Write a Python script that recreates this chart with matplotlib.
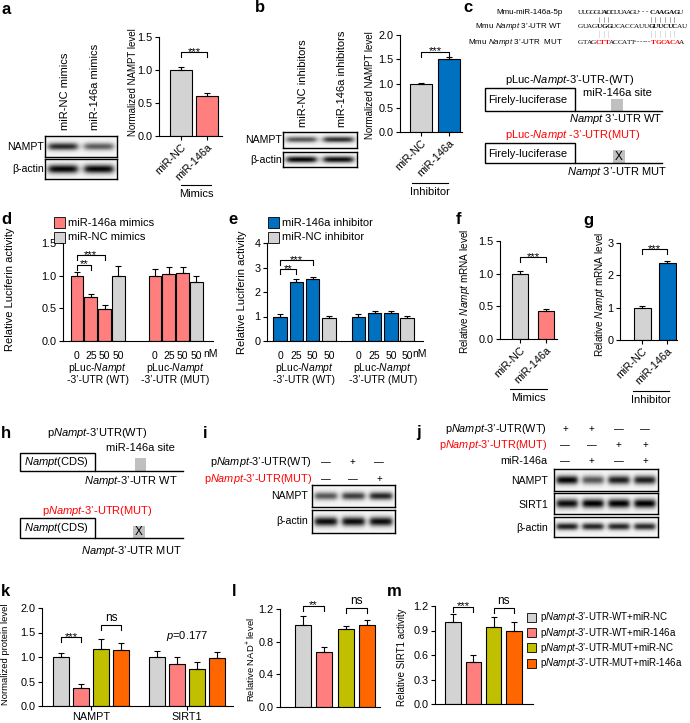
import numpy as np
import matplotlib
matplotlib.use("Agg")
import matplotlib.pyplot as plt
from matplotlib.patches import Rectangle
from matplotlib import transforms

plt.rcParams['font.family'] = ['Liberation Sans', 'DejaVu Sans']
plt.rcParams['mathtext.fontset'] = 'custom'
plt.rcParams['mathtext.rm'] = 'Liberation Sans'
plt.rcParams['mathtext.it'] = 'Liberation Sans:italic'
plt.rcParams['font.size'] = 7
plt.rcParams['axes.linewidth'] = 0.8

W, H = 690, 723
fig = plt.figure(figsize=(W / 100, H / 100), dpi=100)

GRAY = '#d3d3d3'
PINK = '#ff7f7f'
BLUE = '#0070c0'
OLIVE = '#c0c000'
ORANGE = '#ff6600'
RED = '#ff0000'
TICK_FS = 7.8

# ---- data ----
pair_labels = ['miR-NC', 'miR-146a']
a_mean = [1.0, 0.60]; a_err = [0.05, 0.05]
b_mean = [1.0, 1.51]; b_err = [0.02, 0.03]
f_mean = [1.0, 0.43]; f_err = [0.04, 0.03]
g_mean = [1.0, 2.38]; g_err = [0.04, 0.05]

doses = ['0', '25', '50', '50']
d_wt = [1.0, 0.68, 0.49, 1.0]; d_wt_err = [0.05, 0.04, 0.06, 0.15]
d_mut = [1.0, 1.03, 1.04, 0.90]; d_mut_err = [0.10, 0.10, 0.09, 0.10]
e_wt = [1.0, 2.40, 2.53, 0.92]; e_wt_err = [0.10, 0.15, 0.10, 0.10]
e_mut = [1.0, 1.15, 1.15, 0.92]; e_mut_err = [0.10, 0.08, 0.08, 0.10]

k_groups = ['NAMPT', 'SIRT1']
k_nampt = [1.0, 0.37, 1.17, 1.14]; k_nampt_err = [0.09, 0.07, 0.20, 0.15]
k_sirt1 = [1.0, 0.85, 0.76, 0.97]; k_sirt1_err = [0.12, 0.14, 0.14, 0.14]
l_mean = [1.0, 0.67, 0.96, 1.0]; l_err = [0.12, 0.06, 0.03, 0.07]
m_mean = [1.0, 0.51, 0.94, 0.90]; m_err = [0.10, 0.09, 0.12, 0.11]
m_legend = [r"p$\it{Nampt}$-3’-UTR-WT+miR-NC",
            r"p$\it{Nampt}$-3’-UTR-WT+miR-146a",
            r"p$\it{Nampt}$-3’-UTR-MUT+miR-NC",
            r"p$\it{Nampt}$-3’-UTR-MUT+miR-146a"]
four_colors = [GRAY, PINK, OLIVE, ORANGE]

# blot band intensities (lane order left to right)
a_blot_nampt = [0.80, 0.60]; a_blot_actin = [0.95, 0.95]
b_blot_nampt = [0.62, 0.78]; b_blot_actin = [0.95, 0.92]
i_blot_nampt = [0.62, 0.72, 0.82]; i_blot_actin = [0.92, 0.92, 0.92]
j_blot_nampt = [0.95, 0.62, 0.85, 0.85]
j_blot_sirt1 = [0.92, 0.97, 0.97, 0.97]
j_blot_actin = [0.85, 0.82, 0.82, 0.80]
i_signs = [['—', '+', '—'], ['—', '—', '+']]
j_signs = [['+', '+', '—', '—'], ['—', '—', '+', '+'], ['—', '+', '—', '+']]


def px_axes(x0, y0, x1, y1):
    return fig.add_axes([x0 / W, 1 - y1 / H, (x1 - x0) / W, (y1 - y0) / H])


def bar_axes(x0, x1, ytop, ybot, ymax, yticks, fmt, c0, step):
    ax = px_axes(x0, ytop, x1, ybot)
    ax.set_xlim((x0 - c0) / step, (x1 - c0) / step)
    ax.set_ylim(0, ymax)
    ax.set_yticks(yticks)
    ax.set_yticklabels([fmt % t for t in yticks])
    for s in ['top', 'right']:
        ax.spines[s].set_visible(False)
    ax.tick_params(direction='out', length=3, width=0.8, pad=1.5, labelsize=TICK_FS)
    ax.patch.set_visible(False)
    return ax


def bars(ax, pos, mean, err, colors, width):
    ax.bar(pos, mean, width=width, color=colors, edgecolor='black', linewidth=0.8, zorder=2)
    ax.errorbar(pos, mean, yerr=[np.zeros(len(mean)), err], fmt='none', ecolor='black',
                elinewidth=0.8, capsize=2.5, capthick=0.8, clip_on=False, zorder=3)


def bracket(ax, xa, xb, y, label, drop_px=5):
    d = drop_px * ax.get_ylim()[1] / (ax.get_position().height * H)
    ax.plot([xa, xa, xb, xb], [y - d, y, y, y - d], color='black', lw=0.8, clip_on=False)
    if label.startswith('*'):
        ax.text((xa + xb) / 2, y - 0.5 * d, label, ha='center', va='baseline', fontsize=8.2)
    else:
        ax.text((xa + xb) / 2, y + 0.2 * d, label, ha='center', va='bottom', fontsize=8.5)


def rot_xlabels(ax, labels):
    ax.set_xticks(range(len(labels)))
    ax.set_xticklabels(labels, rotation=45, ha='right', va='top', rotation_mode='anchor',
                       fontsize=TICK_FS)


def blot(x0, y0, x1, y1, levels, thick=0.18):
    ax = px_axes(x0, y0, x1, y1)
    nx, ny = int((x1 - x0) * 3), int((y1 - y0) * 3)
    X, Y = np.meshgrid(np.linspace(0, 1, nx), np.linspace(0, 1, ny))
    img = np.full((ny, nx), 0.96)
    n = len(levels)
    for i, lv in enumerate(levels):
        cx = (i + 0.5) / n
        hw = 0.40 / n
        px = 1 / (1 + np.exp((np.abs(X - cx) - hw) / (0.05 / n)))
        py = np.exp(-((Y - 0.5) / thick) ** 2)
        img -= lv * px * py
    ax.imshow(np.clip(img, 0, 1), cmap='gray', vmin=0, vmax=1, aspect='auto',
              extent=(0, 1, 0, 1), interpolation='bilinear')
    ax.set_xticks([]); ax.set_yticks([])
    for s in ax.spines.values():
        s.set_linewidth(1.0)
    return ax


# ================= a =================
blot(45, 136, 117, 157, a_blot_nampt)
blot(45, 159, 117, 179, a_blot_actin, thick=0.22)
ax = bar_axes(159, 222, 37, 136, 1.5, [0, 0.5, 1.0, 1.5], '%.1f', 181, 26)
bars(ax, [0, 1], a_mean, a_err, [GRAY, PINK], 0.86)
rot_xlabels(ax, pair_labels)
bracket(ax, 0, 1, 1.27, '***')

# ================= b =================
blot(283, 132, 357, 148, b_blot_nampt)
blot(283, 152, 357, 167, b_blot_actin, thick=0.22)
ax = bar_axes(400, 462, 35, 132, 2.0, [0, 0.5, 1.0, 1.5, 2.0], '%.1f', 421, 28)
bars(ax, [0, 1], b_mean, b_err, [GRAY, BLUE], 0.8)
rot_xlabels(ax, pair_labels)
bracket(ax, 0, 1, 1.65, '***')

# ================= d =================
pos_wt = np.arange(4)
pos_mut = np.arange(4) + 5.65
ax_d = bar_axes(63, 213, 243, 341, 1.5, [0, 0.5, 1.0, 1.5], '%.1f', 77, 13.8)
bars(ax_d, pos_wt, d_wt, d_wt_err, [PINK, PINK, PINK, GRAY], 0.92)
bars(ax_d, pos_mut, d_mut, d_mut_err, [PINK, PINK, PINK, GRAY], 0.92)
ax_d.set_xticks(np.concatenate([pos_wt, pos_mut]))
ax_d.set_xticklabels(doses + doses)
ax_d.tick_params(axis='x', length=0, pad=7, labelsize=7.5)
bracket(ax_d, 0, 1, 1.17, '**')
bracket(ax_d, 0, 2, 1.31, '***')

# ================= e =================
pos_mut_e = np.arange(4) + 4.8
ax_e = bar_axes(267, 423, 243, 341, 4, [0, 1, 2, 3, 4], '%d', 280, 16.3)
bars(ax_e, pos_wt, e_wt, e_wt_err, [BLUE, BLUE, BLUE, GRAY], 0.82)
bars(ax_e, pos_mut_e, e_mut, e_mut_err, [BLUE, BLUE, BLUE, GRAY], 0.82)
ax_e.set_xticks(np.concatenate([pos_wt, pos_mut_e]))
ax_e.set_xticklabels(doses + doses)
ax_e.tick_params(axis='x', length=0, pad=7, labelsize=7.5)
bracket(ax_e, 0, 1, 2.93, '**')
bracket(ax_e, 0, 2, 3.30, '***')

# ================= f / g =================
ax = bar_axes(500, 557, 241, 339, 1.5, [0, 0.5, 1.0, 1.5], '%.1f', 520, 26)
bars(ax, [0, 1], f_mean, f_err, [GRAY, PINK], 0.65)
rot_xlabels(ax, pair_labels)
bracket(ax, 0, 1, 1.25, '***')

ax = bar_axes(620, 677, 243, 340, 3, [0, 1, 2, 3], '%d', 642, 25)
bars(ax, [0, 1], g_mean, g_err, [GRAY, BLUE], 0.68)
rot_xlabels(ax, pair_labels)
bracket(ax, 0, 1, 2.8, '***')

# ================= i / j blots =================
blot(312, 485, 395, 507, i_blot_nampt)
blot(312, 510, 395, 533, i_blot_actin, thick=0.2)
blot(554, 469, 658, 491, j_blot_nampt, thick=0.2)
blot(554, 493, 658, 514, j_blot_sirt1, thick=0.22)
blot(554, 517, 658, 537, j_blot_actin, thick=0.17)

# ================= k =================
pos_k1 = np.arange(4)
pos_k2 = np.arange(4) + 4.8
ax = bar_axes(42, 233, 608, 706, 2.0, [0, 0.5, 1.0, 1.5, 2.0], '%.1f', 61, 20)
bars(ax, pos_k1, k_nampt, k_nampt_err, four_colors, 0.76)
bars(ax, pos_k2, k_sirt1, k_sirt1_err, four_colors, 0.76)
ax.set_xticks([pos_k1.mean(), pos_k2.mean()])
ax.set_xticklabels(k_groups)
bracket(ax, 0, 1, 1.40, '***')
bracket(ax, 2, 3, 1.65, 'ns')
ax.text(pos_k2.mean(), 1.28, r"$\it{p}$=0.177", ha='center', va='bottom', fontsize=8)

# ================= l =================
ax = bar_axes(280, 380, 609, 707, 1.2, [0, 0.4, 0.8, 1.2], '%.1f', 303, 21.3)
bars(ax, np.arange(4), l_mean, l_err, four_colors, 0.76)
ax.set_xticks([])
bracket(ax, 0, 1, 1.24, '**')
bracket(ax, 2, 3, 1.21, 'ns')

# ================= m =================
ax = bar_axes(435, 533, 606, 704, 1.2, [0, 0.3, 0.6, 0.9, 1.2], '%.1f', 453, 20.3)
bars(ax, np.arange(4), m_mean, m_err, four_colors, 0.76)
ax.set_xticks([])
bracket(ax, 0, 1, 1.19, '***')
bracket(ax, 2, 3, 1.18, 'ns')

# ================= overlay (text, schematics) =================
ov = fig.add_axes([0, 0, 1, 1])
ov.set_xlim(0, W); ov.set_ylim(H, 0); ov.axis('off')


def T(x, y, s, **kw):
    kw.setdefault('ha', 'center'); kw.setdefault('va', 'center')
    ov.text(x, y, s, **kw)


for lab, x, y in [('a', 1, 9), ('b', 255, 8), ('c', 463, 8), ('d', 1, 220), ('e', 228, 220),
                  ('f', 456, 219), ('g', 583, 221), ('h', 1, 433), ('i', 203, 433),
                  ('j', 416, 433), ('k', 1, 591), ('l', 232, 591), ('m', 387, 591)]:
    T(x, y, lab, ha='left', fontsize=12, fontweight='bold')

# y labels
T(133, 82, 'Normalized NAMPT level', rotation=90, fontsize=7)
T(370, 85, 'Normalized NAMPT level', rotation=90, fontsize=7)
T(10, 289, 'Relative Luciferin activity', rotation=90, fontsize=8)
T(242, 292, 'Relative Luciferin activity', rotation=90, fontsize=8)
T(465, 291, r"Relative $\it{Nampt}$ mRNA level", rotation=90, fontsize=7.2)
T(600, 294, r"Relative $\it{Nampt}$ mRNA level", rotation=90, fontsize=7.2)
T(6, 654, 'Normalized protein level', rotation=90, fontsize=6.8)
T(251, 660, r"Relative NAD$^{+}$ level", rotation=90, fontsize=6.8)
T(402, 657, 'Relative SIRT1 activity', rotation=90, fontsize=7)

# blot labels a/b
T(44, 147, 'NAMPT', ha='right', fontsize=7.6)
T(44, 169, 'β-actin', ha='right', fontsize=7.6)
T(65, 130, 'miR-NC mimics', rotation=90, va='bottom', fontsize=8)
T(95, 130, 'miR-146a mimics', rotation=90, va='bottom', fontsize=8)
T(282, 140, 'NAMPT', ha='right', fontsize=7.6)
T(282, 160, 'β-actin', ha='right', fontsize=7.6)
T(303, 127, 'miR-NC inhibitors', rotation=90, va='bottom', fontsize=8)
T(342, 127, 'miR-146a inhibitors', rotation=90, va='bottom', fontsize=8)

# group underlines
for x0, x1, y, s in [(181, 211, 185, 'Mimics'), (412, 448, 183, 'Inhibitor'),
                     (510, 547, 389, 'Mimics'), (633, 669, 391, 'Inhibitor')]:
    ov.plot([x0, x1], [y, y], color='black', lw=0.8)
    T((x0 + x1) / 2, y + 9, s, fontsize=8)

# d / e group labels and legends
for axx, centers, nmx in [(ax_d, [pos_wt.mean(), pos_mut.mean()], 211),
                          (ax_e, [pos_wt.mean(), pos_mut_e.mean()], 420)]:
    tr = transforms.blended_transform_factory(axx.transData, ov.transData)
    for cx, tag in zip(centers, ['(WT)', '(MUT)']):
        ov.text(cx, 368, r"pLuc-$\it{Nampt}$", transform=tr, ha='center', va='center', fontsize=7.5)
        ov.text(cx, 380, '-3’-UTR ' + tag, transform=tr, ha='center', va='center', fontsize=7.5)
    T(nmx, 354, 'nM', fontsize=7.5)

for x0, items in [(54, [(PINK, 'miR-146a mimics'), (GRAY, 'miR-NC mimics')]),
                  (268, [(BLUE, 'miR-146a inhibitor'), (GRAY, 'miR-NC inhibitor')])]:
    for j, (col, txt) in enumerate(items):
        yy = 217 + 15 * j
        ov.add_patch(Rectangle((x0, yy), 11, 11, facecolor=col, edgecolor='black', lw=0.6))
        T(x0 + 14, yy + 5.5, txt, ha='left', fontsize=8)

for j, (col, txt) in enumerate(zip(four_colors, m_legend)):
    yy = 613 + 15.2 * j
    ov.add_patch(Rectangle((527, yy), 9, 9, facecolor=col, edgecolor='black', lw=0.6))
    T(540, yy + 4.5, txt, ha='left', fontsize=7)

# ---- panel c: sequences ----
T(563, 12, 'Mmu-miR-146a-5p', ha='right', fontsize=5.8)
T(563, 26, r"Mmu $\it{Nampt}$ 3’-UTR WT", ha='right', fontsize=5.8)
T(563, 42, r"Mmu $\it{Nampt}$ 3’-UTR  MUT", ha='right', fontsize=5.8)


def seq(x, y, parts, pitch):
    for txt, col, wt in parts:
        for ch in txt:
            ov.text(x, y, ch, ha='left', va='center', fontsize=5.2, color=col,
                    fontweight=wt, family='Liberation Serif')
            x += pitch
    return x


seq(578, 12, [('UUGGGU', 'k', 'normal'), ('ACC', 'k', 'bold'), ('UUAAGU', 'k', 'normal'),
              ('---', 'k', 'normal')], 4.0)
seq(650, 12, [('CAAGAG', 'k', 'bold'), ('U', 'k', 'normal')], 4.7)
seq(578, 26, [('GUAG', 'k', 'normal'), ('UGG', 'k', 'bold'), ('UCACCAUU', 'k', 'normal'),
              ('GUUCUC', 'k', 'bold'), ('AU', 'k', 'normal')], 4.7)
seq(578, 42, [('GTAG', 'k', 'normal'), ('CTT', RED, 'bold'), ('ACCATT', 'k', 'normal')], 4.4)
seq(634, 42, [('------', 'k', 'normal')], 2.8)
seq(651, 42, [('TGCACA', RED, 'bold'), ('A', 'k', 'normal')], 4.7)
for i in list(range(4, 7)) + list(range(15, 21)):
    xc = 578 + 4.7 * i + 2.2
    ov.plot([xc, xc], [16.5, 21.5], color='0.4', lw=0.4)
    ov.plot([xc, xc], [31, 37], color='0.5', lw=0.4, ls=(0, (1, 1)))

# ---- panel c: construct ----
T(570, 80, r"pLuc-$\it{Nampt}$-3’-UTR-(WT)", fontsize=8)
T(617, 93, 'miR-146a site', fontsize=8)
ov.add_patch(Rectangle((485, 88), 90, 23, fill=False, edgecolor='black', lw=1))
T(488, 100, 'Firely-luciferase', ha='left', fontsize=8)
ov.plot([575, 662], [111, 111], color='black', lw=1)
ov.add_patch(Rectangle((611, 99), 12, 12, facecolor='#c0c0c0', edgecolor='none'))
T(662, 119, r"$\it{Nampt}$ 3’-UTR WT", ha='right', fontsize=8)
T(573, 135, r"pLuc-$\it{Nampt}$ -3’-UTR(MUT)", color=RED, fontsize=8)
ov.add_patch(Rectangle((485, 143), 90, 20, fill=False, edgecolor='black', lw=1))
T(488, 154, 'Firely-luciferase', ha='left', fontsize=8)
ov.plot([575, 662], [163, 163], color='black', lw=1)
ov.add_patch(Rectangle((613, 150), 12, 13, facecolor='#c0c0c0', edgecolor='none'))
T(619, 157, 'X', fontsize=8.5)
T(667, 172, r"$\it{Nampt}$ 3’-UTR MUT", ha='right', fontsize=8)

# ---- panel h ----
T(97, 433, r"p$\it{Nampt}$-3’UTR(WT)", fontsize=8)
T(140, 448, 'miR-146a site', fontsize=8)
ov.add_patch(Rectangle((20, 453), 75, 18, fill=False, edgecolor='black', lw=1))
T(24, 462, r"$\it{Nampt}$(CDS)", ha='left', fontsize=8)
ov.plot([95, 183], [471, 471], color='black', lw=1)
ov.add_patch(Rectangle((135, 458), 11, 13, facecolor='#c0c0c0', edgecolor='none'))
T(178, 481, r"$\it{Nampt}$-3’-UTR WT", ha='right', fontsize=8)
T(97, 511, r"p$\it{Nampt}$-3’-UTR(MUT)", color=RED, fontsize=8)
ov.add_patch(Rectangle((20, 518), 75, 20, fill=False, edgecolor='black', lw=1))
T(24, 528, r"$\it{Nampt}$(CDS)", ha='left', fontsize=8)
ov.plot([95, 183], [538, 538], color='black', lw=1)
ov.add_patch(Rectangle((133, 526), 12, 12, facecolor='#c0c0c0', edgecolor='none'))
T(139, 532, 'X', fontsize=8.5)
T(182, 551, r"$\it{Nampt}$-3’-UTR MUT", ha='right', fontsize=8)

# ---- panel i / j labels ----
T(312, 462, r"p$\it{Nampt}$-3’-UTR(WT)", ha='right', fontsize=7.8)
T(312, 479, r"p$\it{Nampt}$-3’-UTR(MUT)", ha='right', fontsize=7.8, color=RED)
for r, row in enumerate(i_signs):
    for c, s in enumerate(row):
        T(326 + 26.5 * c, 462 + 17 * r, s, fontsize=7)
T(308, 496, 'NAMPT', ha='right', fontsize=7.6)
T(308, 521, 'β-actin', ha='right', fontsize=7.6)

T(547, 429, r"p$\it{Nampt}$-3’-UTR(WT)", ha='right', fontsize=7.8)
T(547, 445, r"p$\it{Nampt}$-3’-UTR(MUT)", ha='right', fontsize=7.8, color=RED)
T(547, 461, 'miR-146a', ha='right', fontsize=7.8)
for r, row in enumerate(j_signs):
    for c, s in enumerate(row):
        T(565 + 26.7 * c, 429 + 16 * r, s, fontsize=7)
T(548, 481, 'NAMPT', ha='right', fontsize=7.6)
T(548, 505, 'SIRT1', ha='right', fontsize=7.6)
T(548, 528, 'β-actin', ha='right', fontsize=7.6)

fig.savefig('out.png', dpi=100)
